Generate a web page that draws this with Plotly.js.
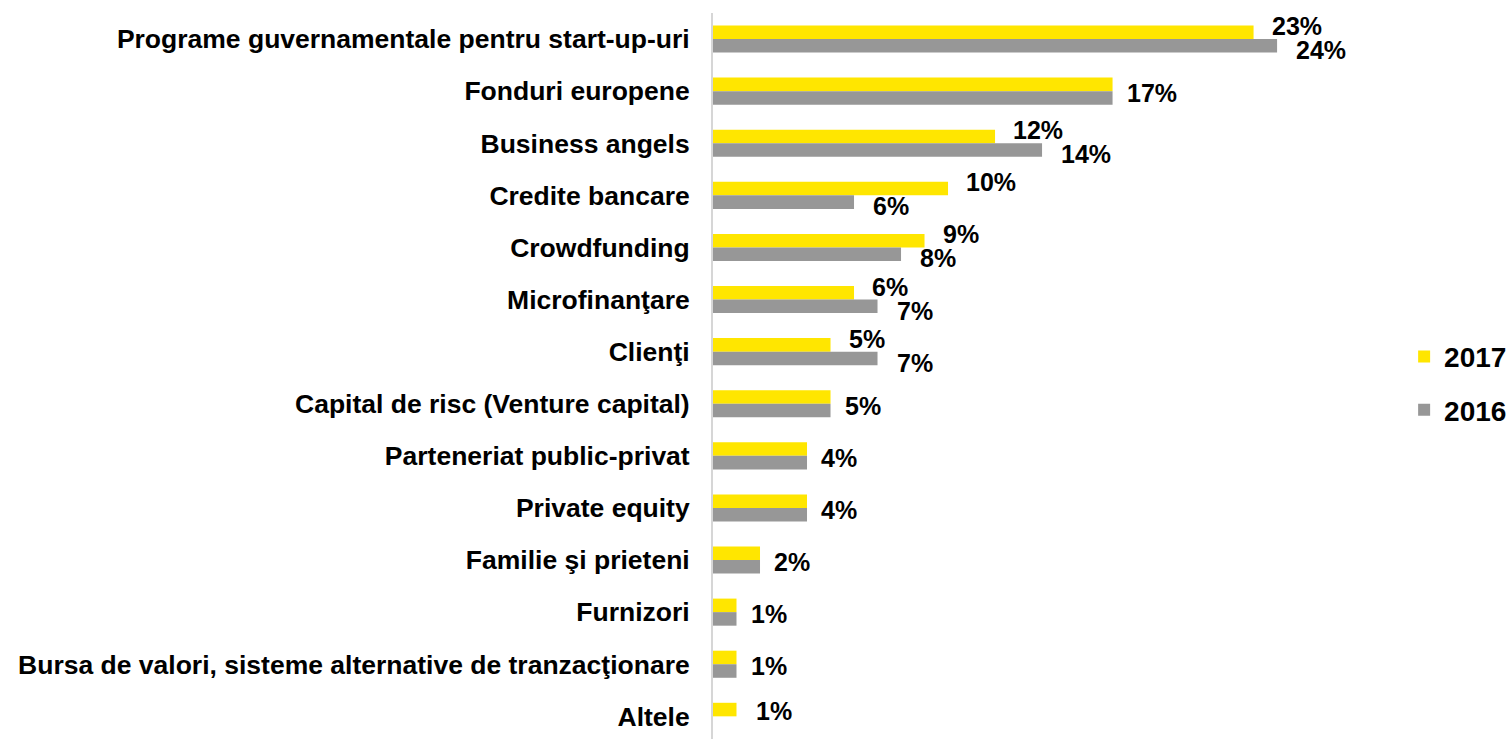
<!DOCTYPE html>
<html>
<head>
<meta charset="utf-8">
<script src="https://cdn.plot.ly/plotly-3.0.1.min.js"></script>
<style>
  html, body { margin: 0; padding: 0; background: #ffffff; }
  #chart { width: 1512px; height: 739px; }
</style>
</head>
<body>
<div id="chart"></div>
<script>
// ---- data ----
const categories = [
  "Programe guvernamentale pentru start-up-uri",
  "Fonduri europene",
  "Business angels",
  "Credite bancare",
  "Crowdfunding",
  "Microfinanţare",
  "Clienţi",
  "Capital de risc (Venture capital)",
  "Parteneriat public-privat",
  "Private equity",
  "Familie şi prieteni",
  "Furnizori",
  "Bursa de valori, sisteme alternative de tranzacţionare",
  "Altele"
];
const values2017 = [23, 17, 12, 10, 9, 6, 5, 5, 4, 4, 2, 1, 1, 1];
const values2016 = [24, 17, 14, 6, 8, 7, 7, 5, 4, 4, 2, 1, 1, null];
const seriesNames = ["2017", "2016"];

// ---- styles ----
const FONT = "Liberation Sans, Arial, Helvetica, sans-serif";
const YELLOW = "#FFE600";
const GREY = "#979797";

const traces = [
  {
    type: "bar", orientation: "h", name: seriesNames[0], legendgroup: "a",
    y: categories, x: values2017,
    marker: { color: YELLOW, line: { width: 0 } },
    hoverinfo: "skip"
  },
  {
    type: "bar", orientation: "h", name: seriesNames[1], legendgroup: "b",
    y: categories, x: values2016,
    marker: { color: GREY, line: { width: 0 } },
    hoverinfo: "skip"
  }
];

// value labels built from the data
const labelFont = { family: FONT, size: 25, color: "#000000", weight: "bold" };
const annotations = [];
function addLabel(v, cat, dx, dy) {
  annotations.push({
    x: v, y: cat, xref: "x", yref: "y",
    text: v + "%", showarrow: false,
    xanchor: "left", yanchor: "middle",
    xshift: dx, yshift: dy,
    font: labelFont
  });
}
categories.forEach(function (cat, i) {
  const a = values2017[i], b = values2016[i];
  if (b === null || b === undefined) {
    addLabel(a, cat, 17, 5);
  } else if (a === b) {
    addLabel(a, cat, 12, -2);
  } else {
    addLabel(a, cat, 16, 13);
    addLabel(b, cat, 17, -11);
  }
});

const layout = {
  width: 1512, height: 739,
  paper_bgcolor: "#ffffff", plot_bgcolor: "#ffffff",
  margin: { l: 713, r: 112, t: 13, b: 0, pad: 0, autoexpand: false },
  barmode: "group",
  bargap: 0.48,
  bargroupgap: 0,
  showlegend: true,
  legend: {
    x: 1.006, xanchor: "left",
    y: 0.49, yanchor: "middle",
    traceorder: "grouped",
    tracegroupgap: 14,
    font: { family: FONT, size: 28, color: "#000000", weight: "bold" },
    bgcolor: "rgba(0,0,0,0)", borderwidth: 0
  },
  xaxis: {
    range: [0, 29.23],
    showgrid: false, zeroline: false, showline: false,
    showticklabels: false, ticks: "", fixedrange: true
  },
  yaxis: {
    type: "category",
    range: [13.435, -0.5],
    showgrid: false, zeroline: false,
    showline: true, linecolor: "#d6d6d6", linewidth: 2,
    ticks: "", ticklabelstandoff: 16,
    tickfont: { family: FONT, size: 26.5, color: "#000000", weight: "bold" },
    fixedrange: true
  },
  annotations: annotations,
  font: { family: FONT }
};

Plotly.newPlot("chart", traces, layout, { displayModeBar: false, staticPlot: true });
</script>
</body>
</html>
